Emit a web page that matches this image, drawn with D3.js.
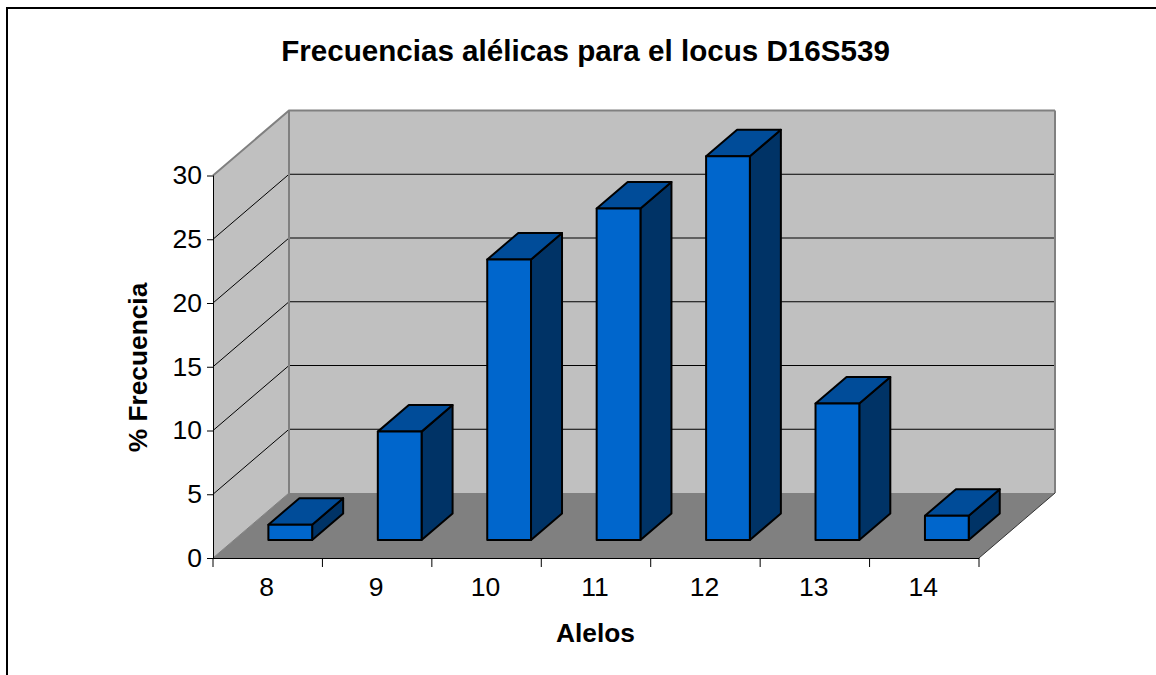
<!DOCTYPE html>
<html>
<head>
<meta charset="utf-8">
<script src="https://cdn.jsdelivr.net/npm/d3@7"></script>
<style>
  html, body { margin: 0; padding: 0; background: #fff; overflow: hidden; }
  text { font-family: "Liberation Sans", Arial, sans-serif; fill: #000; }
</style>
</head>
<body>
<div id="chart"></div>
<script>
const alleles = ["8", "9", "10", "11", "12", "13", "14"];
const frequencies = [1.2, 8.5, 22, 26, 30.1, 10.7, 1.9];
const yTicks = [0, 5, 10, 15, 20, 25, 30];

const width = 1156;
const height = 675;
const left = 213;
const right = 979;
const bottom = 558;
const top30 = 175.5;
const depthX = 76;
const depthY = -65;

const svg = d3
  .select("#chart")
  .append("svg")
  .attr("width", width)
  .attr("height", height);

const xScale = d3.scaleBand().domain(alleles).range([left, right]).padding(0);
const yScale = d3.scaleLinear().domain([0, 30]).range([bottom, top30]);
// depth goes from 0 (front of the floor) to 1 (back wall)
const dx = d3.scaleLinear().domain([0, 1]).range([0, depthX]);
const dy = d3.scaleLinear().domain([0, 1]).range([0, depthY]);

const barWidth = xScale.bandwidth() / 2.5;
const barFront = 0.277;
const barBack = 0.685;
const barShift = 1.5;

function poly(points) {
  return d3.line()(points) + "Z";
}

// outer frame, cut off by the window on the right and at the bottom
svg
  .append("path")
  .attr("d", "M7," + height + "V8H" + width)
  .attr("fill", "none")
  .attr("stroke", "#000")
  .attr("stroke-width", 2);

// walls and floor
svg
  .append("path")
  .attr("d", poly([
    [left, yScale(30)],
    [left + depthX, yScale(30) + depthY],
    [left + depthX, bottom + depthY],
    [left, bottom],
  ]))
  .attr("fill", "#c0c0c0");

svg
  .append("path")
  .attr("d", poly([
    [left + depthX, yScale(30) + depthY],
    [right + depthX, yScale(30) + depthY],
    [right + depthX, bottom + depthY],
    [left + depthX, bottom + depthY],
  ]))
  .attr("fill", "#c0c0c0");

svg
  .append("path")
  .attr("d", poly([
    [left, bottom],
    [left + depthX, bottom + depthY],
    [right + depthX, bottom + depthY],
    [right, bottom],
  ]))
  .attr("fill", "#808080");

// gridlines on side and back wall
svg
  .append("g")
  .selectAll("path")
  .data(yTicks.slice(1))
  .join("path")
  .attr("fill", "none")
  .attr("stroke", "#000")
  .attr("stroke-width", 1)
  .attr("d", (d) => {
    const y = yScale(d);
    return d3.line()([
      [left, y],
      [left + depthX, y + depthY],
      [right + depthX, y + depthY],
    ]);
  })
  .filter((d) => d === 30)
  .attr("stroke", "#808080")
  .attr("stroke-width", 2);

// wall edges
svg
  .append("path")
  .attr("d", d3.line()([
    [left + depthX, yScale(30) + depthY],
    [left + depthX, bottom + depthY],
  ]))
  .attr("stroke", "#808080")
  .attr("stroke-width", 2);

svg
  .append("path")
  .attr("d", d3.line()([
    [right + depthX, yScale(30) + depthY],
    [right + depthX, bottom + depthY],
  ]))
  .attr("stroke", "#808080")
  .attr("stroke-width", 2);

svg
  .append("path")
  .attr("d", d3.line()([
    [left, bottom],
    [left + depthX, bottom + depthY],
  ]))
  .attr("stroke", "#808080")
  .attr("stroke-width", 1);

svg
  .append("path")
  .attr("fill", "none")
  .attr("d", d3.line()([
    [right, bottom],
    [right + depthX, bottom + depthY],
  ]))
  .attr("stroke", "#333")
  .attr("stroke-width", 1);

// bars
const bars = svg
  .selectAll("g.bar")
  .data(alleles.map((a, i) => ({ allele: a, value: frequencies[i] })))
  .join("g")
  .attr("class", "bar")
  .attr("stroke", "#000")
  .attr("stroke-width", 2)
  .attr("stroke-linejoin", "round");

function barGeom(d) {
  const x0 = xScale(d.allele) + (xScale.bandwidth() - barWidth) / 2 + dx(barFront) + barShift;
  const x1 = x0 + barWidth;
  const yBase = bottom + dy(barFront);
  const yTop = yBase - (bottom - yScale(d.value));
  const ox = dx(barBack - barFront);
  const oy = dy(barBack - barFront);
  return { x0, x1, yBase, yTop, ox, oy };
}

bars
  .append("path")
  .attr("fill", "#003366")
  .attr("d", (d) => {
    const g = barGeom(d);
    return poly([
      [g.x1, g.yTop],
      [g.x1 + g.ox, g.yTop + g.oy],
      [g.x1 + g.ox, g.yBase + g.oy],
      [g.x1, g.yBase],
    ]);
  });

bars
  .append("path")
  .attr("fill", "#004c99")
  .attr("d", (d) => {
    const g = barGeom(d);
    return poly([
      [g.x0, g.yTop],
      [g.x0 + g.ox, g.yTop + g.oy],
      [g.x1 + g.ox, g.yTop + g.oy],
      [g.x1, g.yTop],
    ]);
  });

bars
  .append("path")
  .attr("fill", "#0066cc")
  .attr("d", (d) => {
    const g = barGeom(d);
    return poly([
      [g.x0, g.yTop],
      [g.x1, g.yTop],
      [g.x1, g.yBase],
      [g.x0, g.yBase],
    ]);
  });

// axes
const yaxis = d3.axisLeft(yScale).tickValues(yTicks).tickSize(6).tickPadding(5).tickFormat(d3.format("d"));
const gy = svg
  .append("g")
  .attr("class", "axis")
  .attr("transform", "translate(" + left + ",0)")
  .call(yaxis);
gy.selectAll("text").style("font-size", "26.5px").attr("font-family", null);
gy.selectAll("line").attr("stroke", "#000").attr("stroke-width", 1);
gy.select(".domain").attr("stroke", "#000").attr("stroke-width", 1).attr("d", "M0.5," + top30 + "V" + bottom);

const xaxis = d3.axisBottom(xScale).tickSize(0).tickPadding(19);
const gx = svg
  .append("g")
  .attr("class", "axis")
  .attr("transform", "translate(0," + bottom + ")")
  .call(xaxis);
gx.selectAll("text").style("font-size", "26.5px").attr("font-family", null).attr("dx", -1);
gx.select(".domain").attr("stroke", "#000").attr("stroke-width", 1).attr("d", "M" + left + ",0.5H" + right);

// x ticks sit on the category boundaries
gx.selectAll("line.edge")
  .data(alleles.concat(["end"]))
  .join("line")
  .attr("class", "edge")
  .attr("x1", (d, i) => left + i * xScale.step())
  .attr("x2", (d, i) => left + i * xScale.step())
  .attr("y1", 0)
  .attr("y2", 9)
  .attr("stroke", "#000");

// titles
svg
  .append("text")
  .attr("x", 585.5)
  .attr("y", 61)
  .attr("text-anchor", "middle")
  .style("font-size", "29.6px")
  .style("font-weight", "bold")
  .text("Frecuencias alélicas para el locus D16S539");

svg
  .append("text")
  .attr("x", 595.5)
  .attr("y", 642)
  .attr("text-anchor", "middle")
  .style("font-size", "26.3px")
  .style("font-weight", "bold")
  .text("Alelos");

svg
  .append("text")
  .attr("transform", "translate(147,367.5) rotate(-90)")
  .attr("text-anchor", "middle")
  .style("font-size", "26.3px")
  .style("font-weight", "bold")
  .text("% Frecuencia");
</script>
</body>
</html>
